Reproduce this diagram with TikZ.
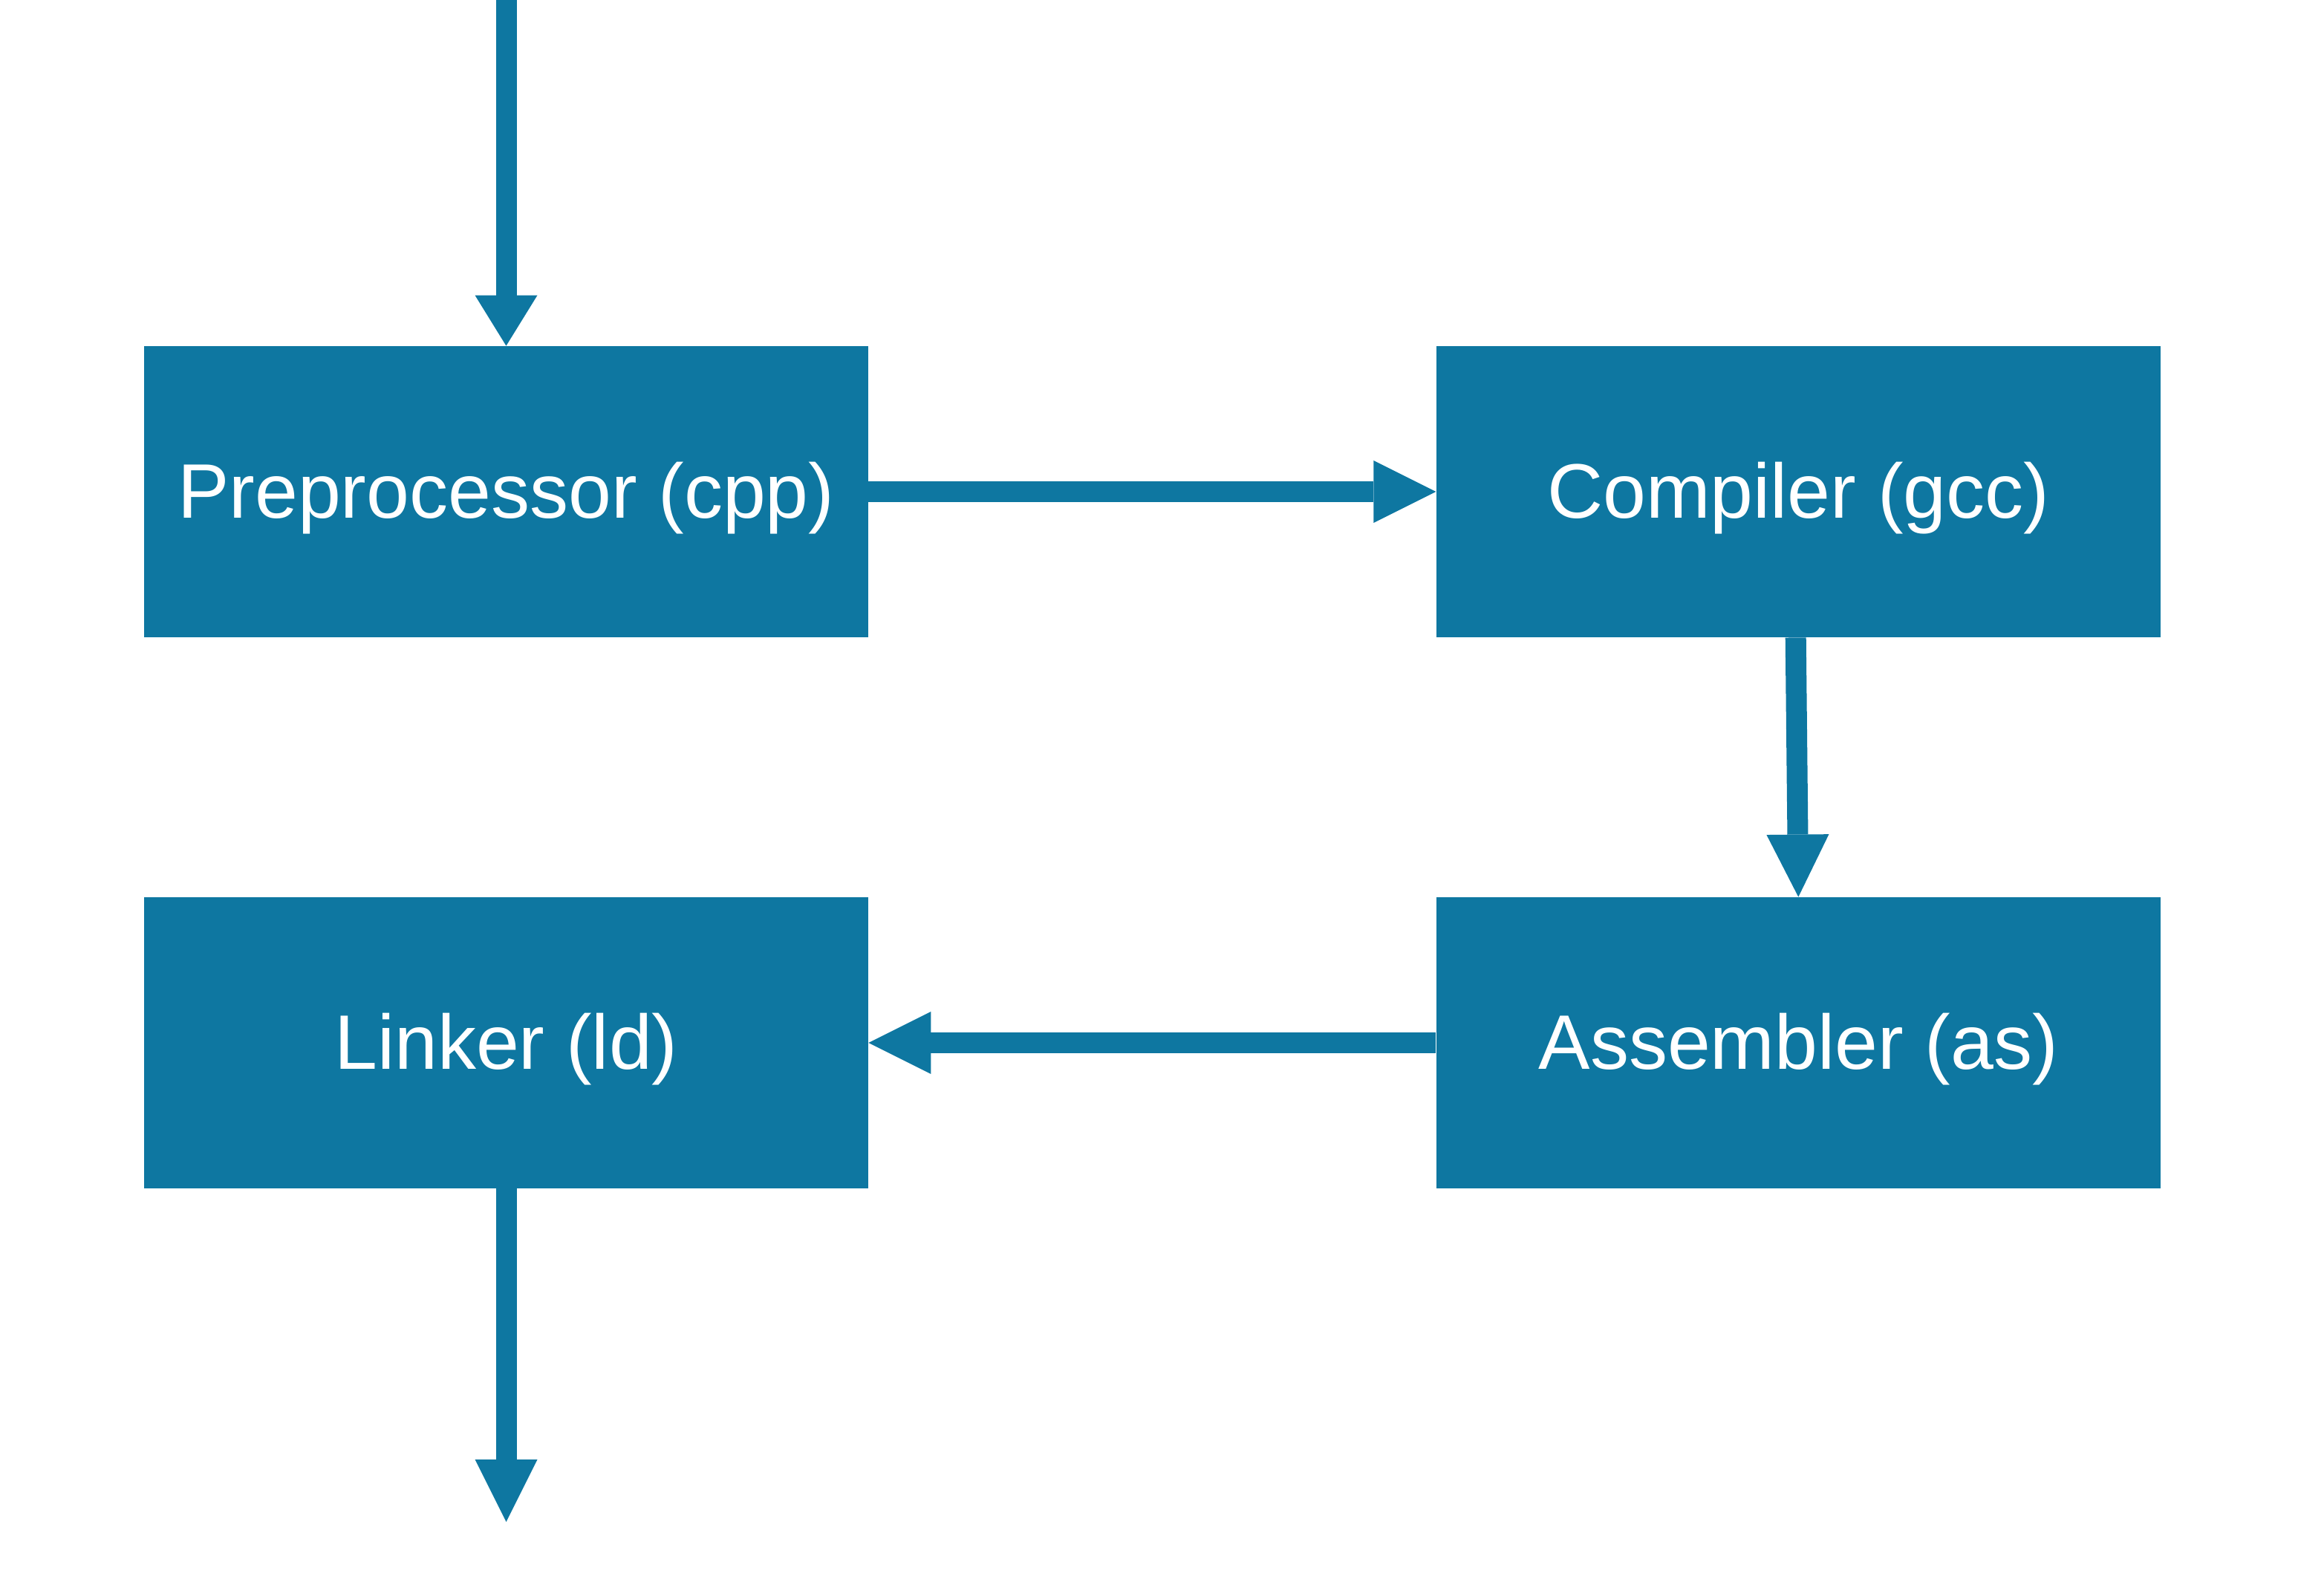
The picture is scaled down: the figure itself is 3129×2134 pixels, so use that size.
\documentclass[tikz,border=0pt]{standalone}
\usepackage{fontspec}
\setmainfont{Liberation Sans}
\usetikzlibrary{arrows.meta}
\definecolor{boxblue}{RGB}{14,119,161}
\tikzset{
  stage/.style={rectangle, fill=boxblue, draw=none, minimum width=487.5pt, minimum height=196pt,
    inner sep=0pt, text=white, font=\fontsize{52}{60}\selectfont, text height=35.8pt, text depth=0pt},
  flow/.style={draw=boxblue, line width=14pt, -{Triangle[length=42pt,width=42pt,line width=0pt]}},
  flowshort/.style={draw=boxblue, line width=14pt, -{Triangle[length=34pt,width=42pt,line width=0pt]}}
}
\begin{document}
\begin{tikzpicture}[x=0.5pt,y=-0.5pt]
\useasboundingbox (0,0) rectangle (3129,2134);
\node[stage] (pre) at (681.5,662) {Preprocessor (cpp)};
\node[stage] (comp) at (2421.3,662) {Compiler (gcc)};
\node[stage] (lnk) at (681.5,1404) {Linker (ld)};
\node[stage] (asm) at (2421.3,1404) {Assembler (as)};
\coordinate (src) at (681.5,-10);
\coordinate (out) at (681.5,2049);
\draw[flowshort] (src) -- (pre.north);
\draw[flow] (pre.east) -- (comp.west);
\draw[flow] ([xshift=-1.8pt]comp.south) -- (asm.north);
\draw[flow] (asm.west) -- (lnk.east);
\draw[flow] (lnk.south) -- (out);
\end{tikzpicture}
\end{document}
